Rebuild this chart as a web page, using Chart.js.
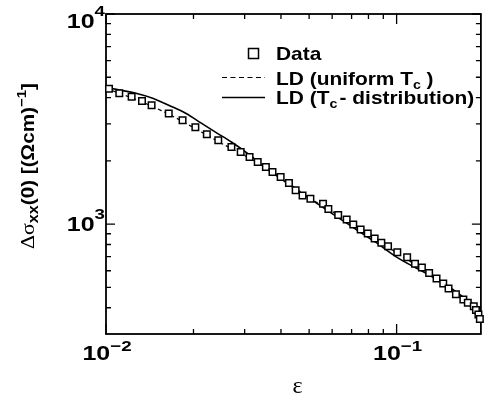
<!DOCTYPE html>
<html>
<head>
<meta charset="utf-8">
<script src="https://cdn.jsdelivr.net/npm/chart.js@4.4.0/dist/chart.umd.min.js"></script>
<style>
  html, body { margin: 0; padding: 0; background: #fff; }
</style>
</head>
<body>
<canvas id="myChart" width="487" height="396"></canvas>
<script>
// measured points (reduced temperature eps vs excess conductivity)
const epsData = [0.01024, 0.01111, 0.01225, 0.0133, 0.01435, 0.01644, 0.01834, 0.0203, 0.02223, 0.02434,
    0.02701, 0.02907, 0.03119, 0.03327, 0.03549, 0.0374, 0.0399, 0.04261, 0.04493, 0.04746,
    0.05051, 0.05583, 0.05823, 0.06295, 0.06733, 0.07094, 0.07521, 0.07956, 0.08403, 0.08861,
    0.09344, 0.10055, 0.10871, 0.1157, 0.1222, 0.1294, 0.1372, 0.1447, 0.1509, 0.16,
    0.1697, 0.1758, 0.1843, 0.1875, 0.1912, 0.1934];
const sigmaData = [4403, 4200, 4033, 3855, 3682, 3361, 3123, 2892, 2678, 2507,
    2329, 2205, 2087, 1975, 1870, 1770, 1675, 1569, 1448, 1370,
    1322, 1251, 1179, 1106, 1053, 997, 944, 903, 855, 815,
    785, 735, 696, 647, 622, 585, 551, 522, 494, 464,
    438, 422, 407, 390, 371, 354];

// LD fit, uniform Tc
const epsUniform = [0.01, 0.0112, 0.0125, 0.014, 0.0155, 0.0175, 0.02, 0.0225, 0.025, 0.0275,
    0.03, 0.035, 0.04, 0.045, 0.05, 0.06, 0.07, 0.08, 0.09, 0.1,
    0.12, 0.14, 0.16, 0.18, 0.195];
const sigmaUniform = [4430, 4180, 3950, 3700, 3470, 3190, 2880, 2630, 2420, 2260,
    2120, 1880, 1670, 1480, 1335, 1150, 1008, 895, 805, 730,
    622, 538, 462, 412, 360];

// LD fit, Tc distribution
const epsDist = [0.01, 0.01277, 0.01455, 0.01657, 0.01887, 0.02121, 0.02373, 0.02701, 0.03078, 0.03505,
    0.0399, 0.04547, 0.05043, 0.06546, 0.08489, 0.1, 0.1287, 0.1466, 0.167, 0.1901, 0.195];
const sigmaDist = [4470, 4186, 3963, 3660, 3361, 3031, 2746, 2460, 2166, 1870,
    1646, 1448, 1319, 1036, 818, 697, 575, 518, 457, 395, 370];

// axes
const xMajor = [0.01, 0.1];
const xExponents = ['\u22122', '\u22121'];
const xMinor = [0.02, 0.03, 0.04, 0.05, 0.06, 0.07, 0.08, 0.09];
const yMajor = [1000, 10000];
const yExponents = ['3', '4'];
const yMinor = [400, 500, 600, 700, 800, 900, 2000, 3000, 4000, 5000, 6000, 7000, 8000, 9000];

const SANS = '"Liberation Sans", Arial, Helvetica, sans-serif';
const SERIF = '"Liberation Serif", "Times New Roman", serif';

function toPoints(xs, ys) {
    return xs.map((v, i) => ({ x: v, y: ys[i] }));
}

// draws a run of text pieces (base / sub / sup), stretched horizontally by sx
function drawRich(ctx, parts, x, y, align, sx) {
    let w = 0;
    parts.forEach(p => { ctx.font = p.font; w += ctx.measureText(p.text).width + (p.gap || 0); });
    w *= sx;
    let start = align === 'center' ? x - w / 2 : align === 'right' ? x - w : x;
    ctx.save();
    ctx.translate(start, y);
    ctx.scale(sx, 1);
    let cx = 0;
    parts.forEach(p => {
        ctx.font = p.font;
        ctx.fillText(p.text, cx, p.dy || 0);
        cx += ctx.measureText(p.text).width + (p.gap || 0);
    });
    ctx.restore();
}

const frameAndLabels = {
    id: 'frameAndLabels',
    beforeDatasetsDraw(chart) {
        const { ctx, chartArea: a, scales: { x, y } } = chart;
        ctx.save();
        ctx.strokeStyle = '#000';
        ctx.lineWidth = 1.8;
        ctx.strokeRect(a.left, a.top, a.right - a.left, a.bottom - a.top);

        ctx.lineWidth = 1.3;
        ctx.beginPath();
        const tickX = (v, len) => {
            const px = x.getPixelForValue(v);
            ctx.moveTo(px, a.bottom); ctx.lineTo(px, a.bottom - len);
            ctx.moveTo(px, a.top); ctx.lineTo(px, a.top + len);
        };
        const tickY = (v, len) => {
            const py = y.getPixelForValue(v);
            ctx.moveTo(a.left, py); ctx.lineTo(a.left + len, py);
            ctx.moveTo(a.right, py); ctx.lineTo(a.right - len, py);
        };
        xMinor.forEach(v => tickX(v, 5));
        xMajor.forEach(v => tickX(v, 10));
        yMinor.forEach(v => tickY(v, 5));
        yMajor.forEach(v => tickY(v, 9));
        ctx.stroke();
        ctx.restore();
    },
    afterDraw(chart) {
        const { ctx, chartArea: a, scales: { x, y } } = chart;
        ctx.save();
        ctx.fillStyle = '#000';
        ctx.textBaseline = 'alphabetic';

        const base = 'bold 20px ' + SANS;
        const sup = 'bold 15px ' + SANS;

        // tick labels
        yMajor.forEach((v, i) => {
            const py = y.getPixelForValue(v);
            const yb = Math.max(py + 7, a.top + 14);
            drawRich(ctx, [{ text: '10', font: base }, { text: yExponents[i], font: sup, dy: -12 }],
                a.left - 1, yb, 'right', 1.25);
        });
        xMajor.forEach((v, i) => {
            const px = x.getPixelForValue(v);
            drawRich(ctx, [{ text: '10', font: base }, { text: xExponents[i], font: sup, dy: -9 }],
                px + 1, a.bottom + 26, 'center', 1.25);
        });

        // x title
        drawRich(ctx, [{ text: '\u03b5', font: '24px ' + SERIF }], (a.left + a.right) / 2 + 4, a.bottom + 59, 'center', 1);

        // y title
        ctx.save();
        ctx.translate(34, (a.top + a.bottom) / 2 - 8);
        ctx.rotate(-Math.PI / 2);
        drawRich(ctx, [
            { text: '\u0394\u03c3', font: '19px ' + SERIF },
            { text: 'xx', font: 'bold 14px ' + SANS, dy: 4 },
            { text: '(0) [(\u03a9cm)', font: 'bold 18px ' + SANS },
            { text: '\u22121', font: 'bold 13px ' + SANS, dy: -8 },
            { text: ']', font: 'bold 18px ' + SANS }
        ], 0, 0, 'center', 1.15);
        ctx.restore();

        // legend
        const lx0 = 222, lx1 = 265, tx = 276;
        ctx.lineWidth = 1.5;
        ctx.strokeStyle = '#000';
        ctx.strokeRect(248.5, 48.5, 10, 10);

        ctx.beginPath();
        ctx.setLineDash([5, 3.5]);
        ctx.lineWidth = 1.2;
        ctx.moveTo(lx0, 77.5); ctx.lineTo(lx1, 77.5);
        ctx.stroke();
        ctx.setLineDash([]);
        ctx.beginPath();
        ctx.lineWidth = 1.5;
        ctx.moveTo(lx0, 97.5); ctx.lineTo(lx1, 97.5);
        ctx.stroke();

        const lf = 'bold 19px ' + SANS;
        const lsub = 'bold 13px ' + SANS;
        drawRich(ctx, [{ text: 'Data', font: lf }], tx, 60, 'left', 1.1);
        drawRich(ctx, [{ text: 'LD (uniform T', font: lf }, { text: 'c', font: lsub, dy: 4, gap: 5 }, { text: ')', font: lf }],
            tx, 85, 'left', 1.1);
        drawRich(ctx, [{ text: 'LD (T', font: lf }, { text: 'c', font: lsub, dy: 4, gap: 2 }, { text: '- distribution)', font: lf }],
            tx, 104, 'left', 1.1);
        ctx.restore();
    }
};

new Chart(document.getElementById('myChart'), {
    type: 'scatter',
    data: {
        datasets: [{
            label: 'Data',
            data: toPoints(epsData, sigmaData),
            showLine: false,
            pointStyle: 'rect',
            pointRadius: 4.6,
            pointBorderWidth: 1.5,
            pointBorderColor: '#000',
            pointBackgroundColor: '#fff',
            clip: false
        }, {
            label: 'LD (uniform Tc)',
            data: toPoints(epsUniform, sigmaUniform),
            showLine: true,
            borderColor: '#000',
            borderWidth: 1.2,
            borderDash: [4, 3],
            pointRadius: 0,
            cubicInterpolationMode: 'monotone'
        }, {
            label: 'LD (Tc - distribution)',
            data: toPoints(epsDist, sigmaDist),
            showLine: true,
            borderColor: '#000',
            borderWidth: 1.6,
            pointRadius: 0,
            cubicInterpolationMode: 'monotone'
        }]
    },
    options: {
        responsive: false,
        animation: false,
        devicePixelRatio: 1,
        layout: { padding: { left: 106, top: 14, right: 1, bottom: 62 } },
        plugins: { legend: { display: false }, tooltip: { enabled: false } },
        scales: {
            x: { type: 'logarithmic', min: 0.01, max: 0.195, display: false },
            y: { type: 'logarithmic', min: 300, max: 10000, display: false }
        }
    },
    plugins: [frameAndLabels]
});
</script>
</body>
</html>
